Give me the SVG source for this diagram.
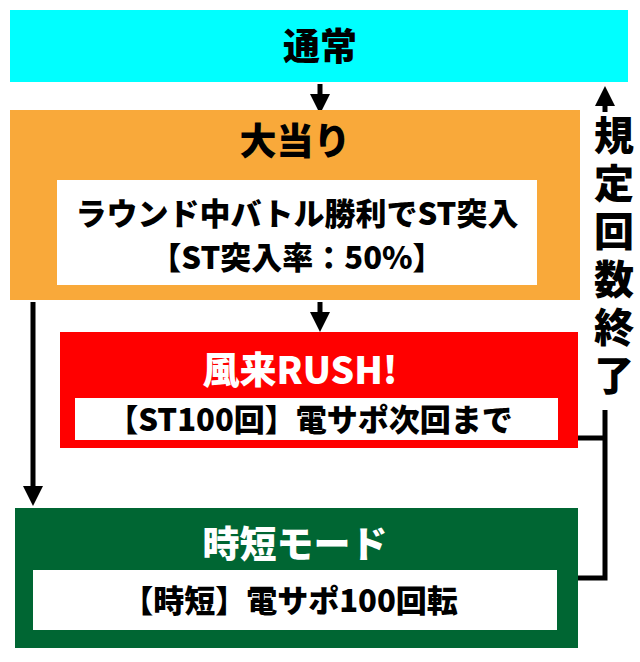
<svg xmlns="http://www.w3.org/2000/svg" width="640" height="662" viewBox="0 0 640 662">
<style>
text{font-family:"Noto Sans CJK JP","Noto Sans CJK SC",sans-serif;font-weight:900;text-anchor:middle}
.t{font-size:37px}
.b{font-size:31px;fill:#000}
.w{fill:#fff}
.c{stroke:#000;stroke-width:5;fill:none}
</style>
<defs><marker id="a" markerWidth="4" markerHeight="4" refX="2" refY="2" orient="auto" markerUnits="strokeWidth"><path d="M0,0L4,2L0,4z" fill="#000"/></marker></defs>
<rect width="640" height="662" fill="#fff"/>
<g id="connectors">
<path class="c" d="M320,84V104" marker-end="url(#a)"/>
<path class="c" d="M320,302V322" marker-end="url(#a)"/>
<path class="c" d="M33,302V496" marker-end="url(#a)"/>
<path class="c" d="M578,438H605M578,578H605V96" marker-end="url(#a)"/>
</g>
<g id="n1"><rect x="10" y="10" width="618" height="72" fill="#00ffff"/><text class="t" x="320" y="60">通常</text></g>
<g id="n2"><rect x="10" y="110" width="570" height="190" fill="#f9a93a"/><text class="t" x="295" y="155">大当り</text>
<rect x="57" y="180" width="480" height="105" fill="#fff"/>
<text class="b" x="297" y="225">ラウンド中バトル勝利でST突入</text><text class="b" x="297" y="269">【ST突入率：50%】</text></g>
<g id="n3"><rect x="60" y="332" width="518" height="116" fill="#ff0000"/><text class="t w" x="300" y="384">風来RUSH!</text>
<rect x="75" y="398" width="483" height="42" fill="#fff"/><text class="b" x="310" y="431">【ST100回】電サポ次回まで</text></g>
<g id="n4"><rect x="15" y="508" width="563" height="140" fill="#006633"/><text class="t w" x="295" y="558">時短モード</text>
<rect x="33" y="570" width="524" height="60" fill="#fff"/><text class="b" x="290" y="612">【時短】電サポ100回転</text></g>
<g id="lbl"><rect x="590" y="112" width="44" height="298" fill="#fff"/>
<text style="font-size:40px" x="614">
<tspan x="614" y="150">規</tspan><tspan x="614" y="198">定</tspan><tspan x="614" y="246">回</tspan><tspan x="614" y="294">数</tspan><tspan x="614" y="342">終</tspan><tspan x="614" y="390">了</tspan></text></g>
</svg>
